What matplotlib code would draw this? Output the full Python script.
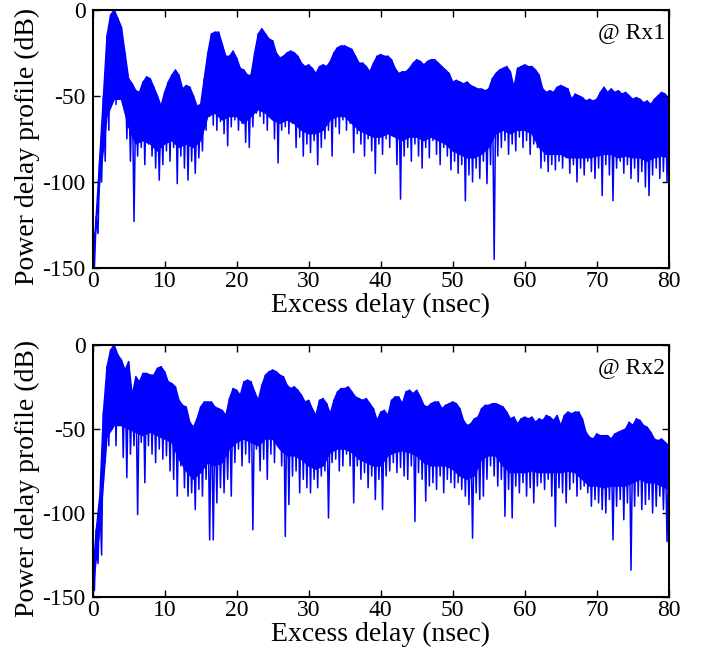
import numpy as np
import matplotlib
matplotlib.use("Agg")
import matplotlib.pyplot as plt

plt.rcParams['font.family'] = ['Liberation Serif', 'DejaVu Serif']
plt.rcParams['axes.unicode_minus'] = False

# delay grid: peaks every 0.5 ns, nulls in between, band floor every 1 ns (nsec)
step = 0.5
floor_step = 1.0

# Rx1 local maxima at 0, 0.5, ..., 80 ns (dB)
rx1_peaks = [
    -150, -120, -85, -50, -15, -3, 0, -5, -10, -25,
    -40, -43, -47, -48, -42, -39, -40, -45, -50, -56,
    -48, -42, -38, -35, -38, -46, -44, -45, -50, -56,
    -55, -40, -25, -14, -13, -13, -20, -27, -27, -24,
    -28, -34, -35, -38, -38, -25, -14, -11, -14, -17,
    -18, -25, -28, -27, -25, -24, -25, -27, -31, -33,
    -32, -34, -37, -33, -32, -33, -30, -25, -22, -21,
    -21, -22, -23, -27, -31, -31, -33, -36, -31, -27,
    -26, -27, -27, -29, -34, -37, -36, -36, -34, -31,
    -29, -30, -32, -30, -29, -29, -31, -33, -35, -37,
    -42, -41, -42, -43, -42, -44, -45, -46, -46, -47,
    -46, -40, -37, -35, -34, -33, -36, -45, -34, -33,
    -32, -33, -33, -35, -38, -46, -48, -47, -48, -45,
    -44, -45, -46, -52, -49, -50, -51, -53, -52, -53,
    -52, -48, -45, -48, -46, -48, -47, -49, -48, -50,
    -52, -51, -52, -54, -53, -55, -52, -50, -48, -49,
    -52,
]
# Rx1 nulls at 0.25, 0.75, ..., 79.75 ns (dB)
rx1_dips = [
    -150, -130, -100, -88, -70, -52, -55, -50, -55, -75,
    -88, -123, -85, -80, -90, -78, -85, -92, -99, -90,
    -82, -88, -80, -101, -85, -92, -99, -88, -95, -86,
    -82, -70, -62, -67, -70, -65, -72, -79, -68, -64,
    -70, -66, -77, -80, -68, -60, -62, -66, -70, -60,
    -75, -89, -70, -68, -72, -66, -80, -74, -85, -78,
    -83, -76, -90, -80, -75, -70, -85, -68, -72, -64,
    -70, -66, -83, -72, -78, -85, -75, -82, -95, -78,
    -84, -75, -80, -72, -90, -110, -85, -80, -88, -78,
    -85, -92, -80, -86, -76, -84, -90, -80, -85, -93,
    -88, -95, -90, -111, -96, -100, -92, -98, -88, -101,
    -90, -145, -85, -80, -76, -84, -78, -82, -74, -80,
    -76, -84, -78, -80, -92, -88, -94, -90, -93, -88,
    -92, -86, -95, -90, -100, -92, -96, -88, -94, -98,
    -92, -108, -90, -96, -111, -92, -88, -95, -90, -98,
    -92, -100, -94, -103, -108, -96, -92, -98, -94, -100,
]
# Rx1 lower edge of the dense band at 0, 1, ..., 80 ns (dB)
rx1_floor = [
    -150, -100, -62, -52, -52, -68, -78, -76, -78, -82,
    -78, -76, -80, -78, -80, -76, -62, -60, -64, -62,
    -62, -66, -62, -58, -60, -64, -66, -64, -66, -70,
    -72, -72, -70, -64, -62, -62, -66, -70, -72, -74,
    -74, -72, -74, -76, -74, -74, -76, -74, -76, -78,
    -82, -84, -86, -86, -84, -80, -72, -70, -72, -70,
    -70, -72, -80, -84, -84, -84, -86, -86, -86, -86,
    -85, -84, -84, -86, -85, -86, -86, -88, -86, -85,
    -86,
]

# Rx2 local maxima at 0, 0.5, ..., 80 ns (dB)
rx2_peaks = [
    -140, -110, -90, -40, -13, -3, 0, -6, -9, -15,
    -10, -30, -19, -22, -17, -17, -18, -18, -14, -13,
    -16, -22, -23, -25, -33, -36, -37, -46, -49, -44,
    -37, -34, -34, -34, -37, -38, -39, -42, -32, -26,
    -27, -30, -22, -21, -22, -28, -33, -24, -18, -16,
    -15, -16, -18, -19, -24, -26, -25, -27, -30, -34,
    -33, -38, -42, -33, -32, -35, -41, -33, -28, -26,
    -26, -25, -28, -31, -32, -33, -32, -35, -38, -45,
    -40, -39, -42, -33, -31, -31, -35, -28, -27, -29,
    -27, -31, -36, -37, -35, -34, -34, -38, -36, -35,
    -34, -35, -38, -45, -48, -47, -44, -43, -38, -36,
    -36, -35, -35, -36, -37, -40, -44, -43, -47, -44,
    -43, -44, -43, -46, -44, -45, -42, -43, -45, -42,
    -48, -42, -40, -41, -40, -40, -44, -52, -55, -56,
    -53, -54, -54, -54, -56, -53, -52, -51, -50, -46,
    -48, -44, -45, -48, -49, -52, -56, -57, -56, -58,
    -60,
]
# Rx2 nulls at 0.25, 0.75, ..., 79.75 ns (dB)
rx2_dips = [
    -146, -130, -125, -70, -60, -50, -60, -48, -67, -79,
    -65, -60, -101, -58, -82, -60, -65, -70, -62, -68,
    -66, -75, -80, -90, -72, -85, -90, -88, -98, -86,
    -90, -80, -116, -116, -94, -85, -88, -80, -90, -70,
    -62, -72, -65, -70, -110, -62, -75, -68, -80, -65,
    -70, -60, -72, -114, -95, -78, -75, -88, -80, -85,
    -88, -80, -85, -78, -75, -103, -70, -68, -75, -72,
    -65, -72, -94, -72, -80, -76, -85, -78, -92, -80,
    -98, -78, -75, -70, -76, -73, -78, -80, -72, -105,
    -76, -80, -93, -84, -82, -86, -78, -88, -80, -82,
    -85, -82, -86, -90, -95, -115, -88, -92, -90, -80,
    -72, -78, -84, -80, -102, -86, -103, -84, -88, -82,
    -90, -85, -94, -84, -82, -86, -80, -90, -108, -85,
    -88, -94, -86, -82, -90, -86, -84, -88, -96, -92,
    -94, -98, -100, -92, -116, -96, -92, -104, -94, -134,
    -96, -90, -98, -95, -92, -100, -96, -90, -98, -117,
]
# Rx2 lower edge of the dense band at 0, 1, ..., 80 ns (dB)
rx2_floor = [
    -146, -110, -55, -48, -48, -50, -52, -54, -52, -54,
    -56, -58, -68, -75, -80, -76, -70, -72, -70, -62,
    -58, -56, -58, -60, -56, -56, -62, -66, -66, -68,
    -72, -74, -72, -64, -62, -62, -64, -68, -70, -72,
    -72, -66, -64, -63, -64, -66, -70, -72, -72, -72,
    -74, -78, -80, -78, -68, -66, -66, -72, -76, -76,
    -76, -75, -76, -76, -76, -76, -75, -76, -80, -84,
    -84, -85, -84, -84, -84, -82, -80, -82, -82, -84,
    -86,
]

x_ticks = [0, 10, 20, 30, 40, 50, 60, 70, 80]
y_ticks = [-150, -100, -50, 0]
trace_color = (0, 0, 1)


def interleave(peaks, dips):
    # alternate peak / null samples to build the trace
    x = []
    y = []
    for i, p in enumerate(peaks):
        x.append(i * step)
        y.append(p)
        if i < len(dips):
            x.append(i * step + step / 2)
            y.append(dips[i])
    return np.array(x), np.array(y)


fig = plt.figure(figsize=(7.07, 6.55), dpi=100)
ax_top = fig.add_axes([0.131, 0.591, 0.815, 0.394])
ax_bot = fig.add_axes([0.131, 0.0885, 0.815, 0.385])

panels = [(ax_top, rx1_peaks, rx1_dips, rx1_floor, '@ Rx1'),
          (ax_bot, rx2_peaks, rx2_dips, rx2_floor, '@ Rx2')]

for ax, peaks, dips, floor, tag in panels:
    xp = np.arange(len(peaks)) * step
    xf = np.arange(len(floor)) * floor_step
    # dense oscillation band between envelope and floor
    ax.fill(np.concatenate([xp, xf[::-1]]),
            np.concatenate([peaks, floor[::-1]]),
            color=trace_color, lw=1.0)
    x, y = interleave(peaks, dips)
    ax.plot(x, y, color=trace_color, lw=1.1)
    ax.set_xlim(0, 80)
    ax.set_ylim(-150, 0)
    ax.set_xticks(x_ticks)
    ax.set_yticks(y_ticks)
    ax.tick_params(direction='in', top=True, right=True, length=5, width=1,
                   labelsize=17, pad=2)
    ax.tick_params(axis='y', pad=5)
    for s in ax.spines.values():
        s.set_linewidth(1.5)
    ax.set_xlabel('Excess delay (nsec)', fontsize=20, labelpad=1)
    ax.set_ylabel('Power delay profile (dB)', fontsize=20)
    ax.yaxis.set_label_coords(-0.092, 0.47)
    ax.text(0.993, 0.953, tag, transform=ax.transAxes, ha='right', va='top',
            fontsize=17)

fig.savefig('out.png', dpi=100)
